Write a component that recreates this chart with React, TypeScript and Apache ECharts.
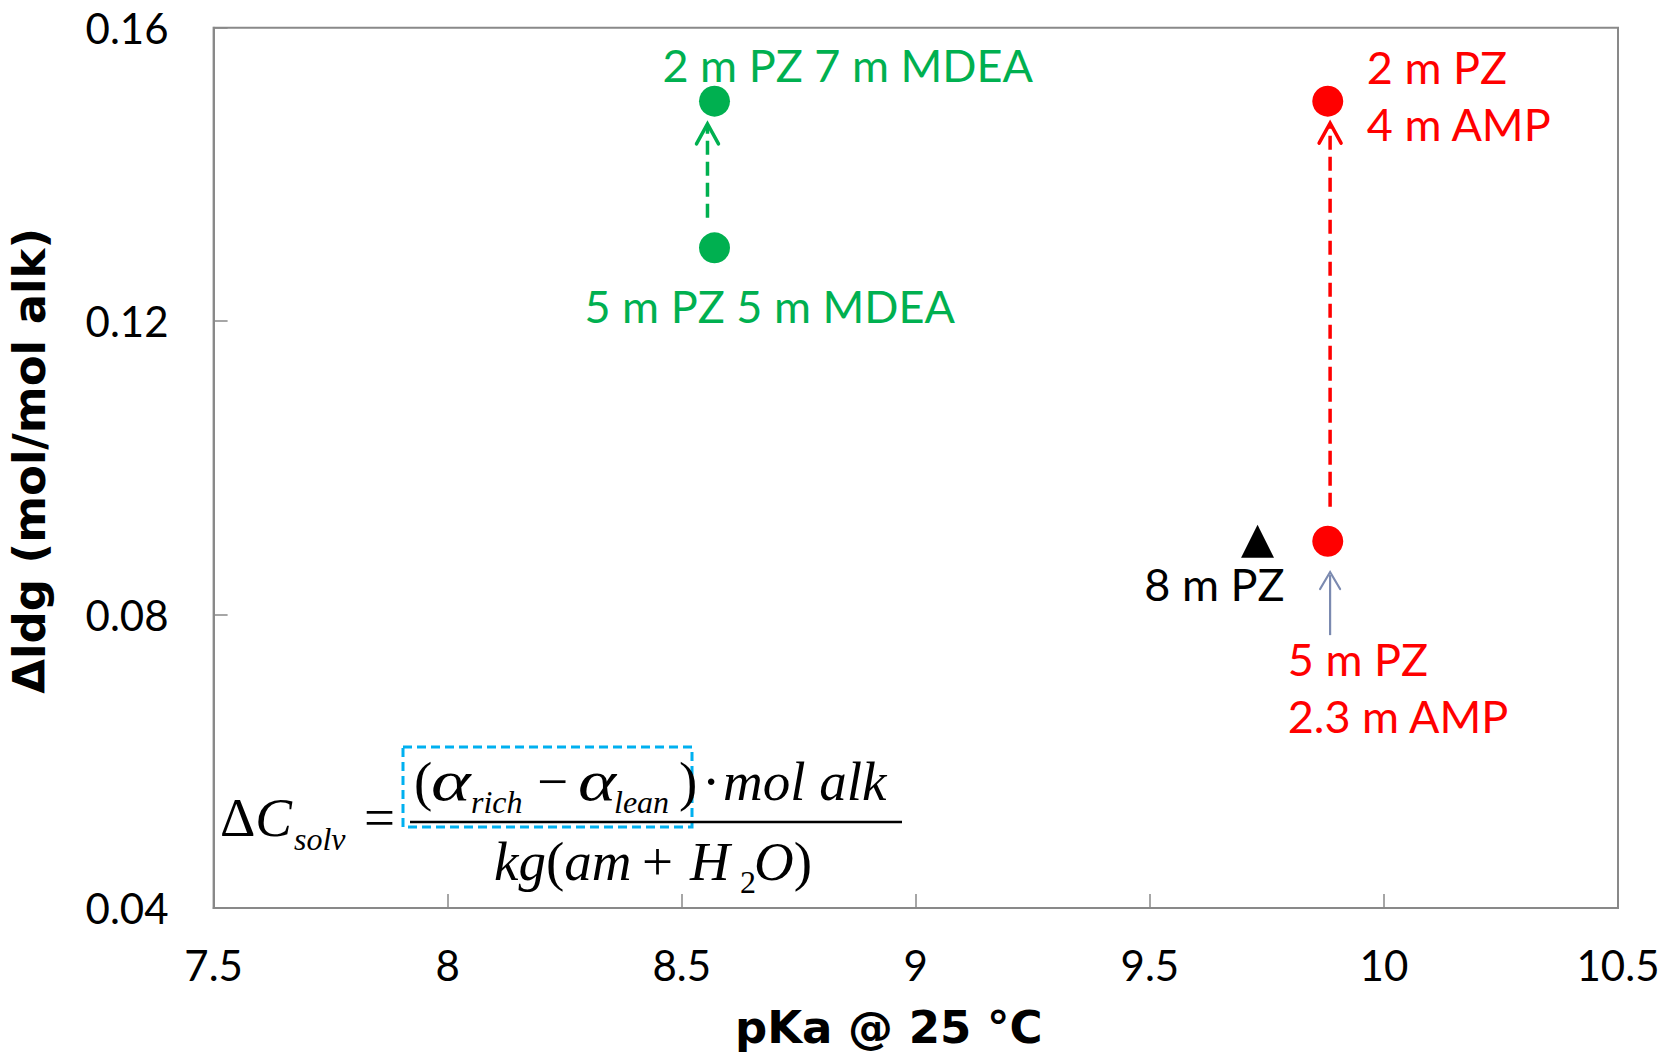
import React, { useEffect, useRef } from "react";
import * as echarts from "echarts";

// ---- data ----
const xTicks = [7.5, 8, 8.5, 9, 9.5, 10, 10.5];
const yTicks = [0.04, 0.08, 0.12, 0.16];

const greenNames = ["2 m PZ 7 m MDEA", "5 m PZ 5 m MDEA"];
const greenPKa = [8.57, 8.57];
const greenLdg = [0.15, 0.13];

const redNames = ["2 m PZ\n4 m AMP", "5 m PZ\n2.3 m AMP"];
const redPKa = [9.88, 9.88];
const redLdg = [0.15, 0.09];

const pzNames = ["8 m PZ"];
const pzPKa = [9.73];
const pzLdg = [0.09];

const arrowPKa = [8.555, 9.885, 9.885];
const arrowFrom = [0.1341, 0.0947, 0.0772];
const arrowTo = [0.1469, 0.147, 0.0858];

const xTitle = "pKa @ 25 °C";
const yTitle = "Δldg (mol/mol alk)";

// ---- styles / layout ----
const GREEN = "#00B050";
const RED = "#FF0000";
const AXIS = "#898989";
const SLATE = "#7B8AB0";
const BLUE = "#00B0F0";

const greenOffsets = [
  [-52, -36],
  [-130, 58],
];
const redOffsets = [
  [39, -6],
  [-40, 146],
];
const pzOffsets = [[27, 43]];

const arrowStyles = [
  { color: GREEN, dash: [14, 7], width: 3.5, hw: 11, hh: 20 },
  { color: RED, dash: [14, 7], width: 3.5, hw: 11, hh: 20 },
  { color: SLATE, dash: null, width: 2.2, hw: 10, hh: 17 },
];

// formula pieces: [rich text, x, baseline, size, scaleX]
const formulaParts: [string, number, number, number, number][] = [
  ["{n|Δ}{i|C}", 220, 836, 55, 1],
  ["{i|solv}", 294, 850, 32, 1],
  ["{n|=}", 364, 836, 55, 1],
  ["{n|(}", 414, 800, 55, 1],
  ["{i|α}", 431, 800, 58, 1.3],
  ["{i|rich}", 471, 813, 32, 1],
  ["{n|−}", 537, 800, 55, 1],
  ["{i|α}", 578, 800, 58, 1.25],
  ["{i|lean}", 614, 813, 32, 1],
  ["{n|)}", 679, 800, 55, 1],
  ["{n|·}", 702, 800, 55, 1],
  ["{i|mol alk}", 723, 800, 55, 1],
  ["{i|kg}{n|(}{i|am}", 494, 880, 55, 1],
  ["{n|+}", 642, 880, 55, 1],
  ["{i|H}", 690, 880, 55, 1],
  ["{n|2}", 740, 893, 32, 1],
  ["{i|O}{n|)}", 754, 880, 55, 1],
];

const labelBase = {
  show: true,
  position: "inside",
  align: "left",
  verticalAlign: "middle",
  fontFamily: "Lato",
  fontSize: 45,
  lineHeight: 57,
  opacity: 1,
  textBorderWidth: 0,
  textBorderColor: "transparent",
};

export default function App() {
  const ref = useRef<HTMLDivElement>(null);

  useEffect(() => {
    if (!ref.current) return;
    const chart = echarts.init(ref.current, null, { renderer: "svg" });

    const formulaGraphics: any[] = formulaParts.map(([t, x, base, size, sx]) => ({
      type: "text",
      silent: true,
      z: 10,
      x,
      y: base - 0.3375 * size,
      scaleX: sx,
      style: {
        text: t,
        x: 0,
        y: 0,
        fontFamily: "Liberation Serif",
        fontSize: size,
        fill: "#000",
        align: "left",
        textAlign: "left",
        verticalAlign: "middle",
        textVerticalAlign: "middle",
        rich: {
          n: { fontFamily: "Liberation Serif", fontSize: size, fontStyle: "normal", fill: "#000", color: "#000" },
          i: { fontFamily: "Liberation Serif", fontSize: size, fontStyle: "italic", fill: "#000", color: "#000" },
        },
      },
    }));

    const option: any = {
      animation: false,
      backgroundColor: "#ffffff",
      grid: {
        left: 213.6,
        top: 27.8,
        right: 57,
        bottom: 145,
        show: true,
        borderColor: AXIS,
        borderWidth: 2,
        backgroundColor: "transparent",
        containLabel: false,
        outerBoundsMode: "none",
      },
      xAxis: {
        type: "value",
        min: xTicks[0],
        max: xTicks[xTicks.length - 1],
        interval: xTicks[1] - xTicks[0],
        name: xTitle,
        nameLocation: "middle",
        nameGap: 97,
        nameTextStyle: {
          fontFamily: "DejaVu Sans",
          fontWeight: "bold",
          fontSize: 45,
          color: "#000",
          padding: [0, 54, 0, 0],
        },
        axisLine: { show: true, lineStyle: { color: AXIS, width: 2 } },
        axisTick: { show: true, inside: true, length: 14, lineStyle: { color: AXIS, width: 1.5 } },
        axisLabel: {
          margin: 36,
          fontFamily: "Lato",
          fontSize: 42,
          color: "#000",
          showMinLabel: true,
          showMaxLabel: true,
          formatter: (v: number) => {
            const m = xTicks.find((t) => Math.abs(t - v) < 1e-6);
            return String(m ?? v);
          },
        },
        splitLine: { show: false },
      },
      yAxis: {
        type: "value",
        min: yTicks[0],
        max: yTicks[yTicks.length - 1],
        interval: yTicks[1] - yTicks[0],
        name: yTitle,
        nameLocation: "middle",
        nameRotate: 90,
        nameGap: 162,
        nameTextStyle: {
          fontFamily: "DejaVu Sans",
          fontWeight: "bold",
          fontSize: 45,
          color: "#000",
          padding: [0, 0, 0, 14],
        },
        axisLine: { show: true, lineStyle: { color: AXIS, width: 2 } },
        axisTick: { show: true, inside: true, length: 14, lineStyle: { color: AXIS, width: 1.5 } },
        axisLabel: {
          margin: 45,
          fontFamily: "Lato",
          fontSize: 42,
          color: "#000",
          showMinLabel: true,
          showMaxLabel: true,
          formatter: (v: number) => {
            const m = yTicks.find((t) => Math.abs(t - v) < 1e-6);
            return (m ?? v).toFixed(2);
          },
        },
        splitLine: { show: false },
      },
      series: [
        {
          type: "custom",
          name: "arrows",
          silent: true,
          clip: false,
          z: 2,
          encode: { x: 0, y: [1, 2] },
          data: arrowPKa.map((x, i) => [x, arrowFrom[i], arrowTo[i], i]),
          renderItem: (params: any, api: any) => {
            const i = api.value(3);
            const st = arrowStyles[i];
            const p0 = api.coord([api.value(0), api.value(1)]);
            const p1 = api.coord([api.value(0), api.value(2)]);
            return {
              type: "group",
              children: [
                {
                  type: "line",
                  shape: { x1: p0[0], y1: p0[1], x2: p1[0], y2: p1[1] + 3 },
                  style: {
                    stroke: st.color,
                    lineWidth: st.width,
                    lineDash: st.dash || undefined,
                    fill: null,
                  },
                },
                {
                  type: "polyline",
                  shape: {
                    points: [
                      [p1[0] - st.hw, p1[1] + st.hh],
                      [p1[0], p1[1]],
                      [p1[0] + st.hw, p1[1] + st.hh],
                    ],
                  },
                  style: {
                    stroke: st.color,
                    lineWidth: st.width,
                    fill: "none",
                    lineCap: "round",
                    lineJoin: "miter",
                  },
                },
              ],
            };
          },
        },
        {
          type: "scatter",
          name: "PZ / MDEA",
          symbol: "circle",
          symbolSize: 31,
          z: 3,
          itemStyle: { color: GREEN, opacity: 1 },
          data: greenPKa.map((x, i) => ({
            value: [x, greenLdg[i]],
            label: { ...labelBase, formatter: greenNames[i], offset: greenOffsets[i], color: GREEN },
          })),
        },
        {
          type: "scatter",
          name: "PZ / AMP",
          symbol: "circle",
          symbolSize: 31,
          z: 3,
          itemStyle: { color: RED, opacity: 1 },
          data: redPKa.map((x, i) => ({
            value: [x, redLdg[i]],
            label: { ...labelBase, formatter: redNames[i], offset: redOffsets[i], color: RED },
          })),
        },
        {
          type: "scatter",
          name: "PZ",
          symbol: "triangle",
          symbolSize: 33,
          z: 3,
          itemStyle: { color: "#000", opacity: 1 },
          data: pzPKa.map((x, i) => ({
            value: [x, pzLdg[i]],
            label: {
              ...labelBase,
              align: "right",
              formatter: pzNames[i],
              offset: pzOffsets[i],
              color: "#000",
            },
          })),
        },
      ],
      graphic: [
        {
          type: "rect",
          silent: true,
          z: 9,
          shape: { x: 403, y: 747, width: 289, height: 80 },
          style: { fill: "none", stroke: BLUE, lineWidth: 3, lineDash: [9, 5] },
        },
        {
          type: "line",
          silent: true,
          z: 9,
          shape: { x1: 410, y1: 822, x2: 902, y2: 822 },
          style: { stroke: "#000", lineWidth: 2.5 },
        },
        ...formulaGraphics,
      ],
    };

    chart.setOption(option);
    return () => chart.dispose();
  }, []);

  return (
    <div
      ref={ref}
      style={{ position: "fixed", left: 0, top: 0, width: 1675, height: 1053, background: "#fff" }}
    />
  );
}
